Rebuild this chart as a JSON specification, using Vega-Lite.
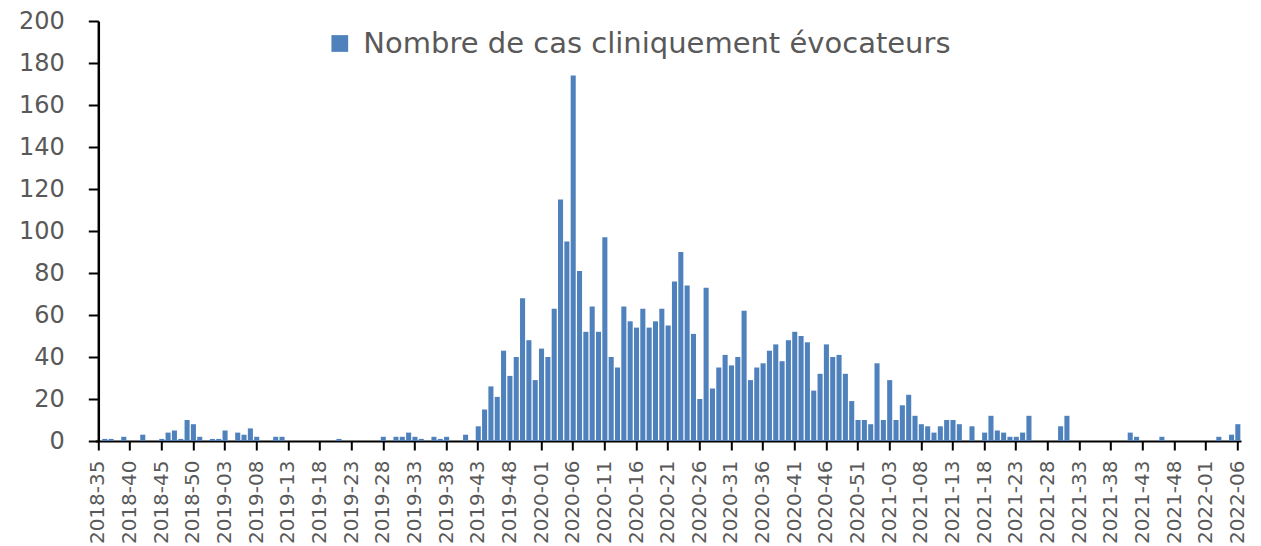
{
  "$schema": "https://vega.github.io/schema/vega-lite/v6.json",
  "width": 1145.7,
  "height": 420,
  "autosize": {"type": "none"},
  "padding": {"left": 95.3, "top": 21, "right": 20, "bottom": 105},
  "background": "white",
  "config": {"view": {"stroke": null}, "font": "DejaVu Sans"},
  "data": {"values": [
    {"semaine": "2018-35", "cas": 0}, {"semaine": "2018-36", "cas": 1}, {"semaine": "2018-37", "cas": 1}, {"semaine": "2018-38", "cas": 0},
    {"semaine": "2018-39", "cas": 2}, {"semaine": "2018-40", "cas": 0}, {"semaine": "2018-41", "cas": 0}, {"semaine": "2018-42", "cas": 3},
    {"semaine": "2018-43", "cas": 0}, {"semaine": "2018-44", "cas": 0}, {"semaine": "2018-45", "cas": 1}, {"semaine": "2018-46", "cas": 4},
    {"semaine": "2018-47", "cas": 5}, {"semaine": "2018-48", "cas": 1}, {"semaine": "2018-49", "cas": 10}, {"semaine": "2018-50", "cas": 8},
    {"semaine": "2018-51", "cas": 2}, {"semaine": "2018-52", "cas": 0},
    {"semaine": "2019-01", "cas": 1}, {"semaine": "2019-02", "cas": 1}, {"semaine": "2019-03", "cas": 5}, {"semaine": "2019-04", "cas": 0},
    {"semaine": "2019-05", "cas": 4}, {"semaine": "2019-06", "cas": 3}, {"semaine": "2019-07", "cas": 6}, {"semaine": "2019-08", "cas": 2},
    {"semaine": "2019-09", "cas": 0}, {"semaine": "2019-10", "cas": 0}, {"semaine": "2019-11", "cas": 2}, {"semaine": "2019-12", "cas": 2},
    {"semaine": "2019-13", "cas": 0}, {"semaine": "2019-14", "cas": 0}, {"semaine": "2019-15", "cas": 0}, {"semaine": "2019-16", "cas": 0},
    {"semaine": "2019-17", "cas": 0}, {"semaine": "2019-18", "cas": 0}, {"semaine": "2019-19", "cas": 0}, {"semaine": "2019-20", "cas": 0},
    {"semaine": "2019-21", "cas": 1}, {"semaine": "2019-22", "cas": 0}, {"semaine": "2019-23", "cas": 0}, {"semaine": "2019-24", "cas": 0},
    {"semaine": "2019-25", "cas": 0}, {"semaine": "2019-26", "cas": 0}, {"semaine": "2019-27", "cas": 0}, {"semaine": "2019-28", "cas": 2},
    {"semaine": "2019-29", "cas": 0}, {"semaine": "2019-30", "cas": 2}, {"semaine": "2019-31", "cas": 2}, {"semaine": "2019-32", "cas": 4},
    {"semaine": "2019-33", "cas": 2}, {"semaine": "2019-34", "cas": 1}, {"semaine": "2019-35", "cas": 0}, {"semaine": "2019-36", "cas": 2},
    {"semaine": "2019-37", "cas": 1}, {"semaine": "2019-38", "cas": 2}, {"semaine": "2019-39", "cas": 0}, {"semaine": "2019-40", "cas": 0},
    {"semaine": "2019-41", "cas": 3}, {"semaine": "2019-42", "cas": 0}, {"semaine": "2019-43", "cas": 7}, {"semaine": "2019-44", "cas": 15},
    {"semaine": "2019-45", "cas": 26}, {"semaine": "2019-46", "cas": 21}, {"semaine": "2019-47", "cas": 43}, {"semaine": "2019-48", "cas": 31},
    {"semaine": "2019-49", "cas": 40}, {"semaine": "2019-50", "cas": 68}, {"semaine": "2019-51", "cas": 48}, {"semaine": "2019-52", "cas": 29},
    {"semaine": "2020-01", "cas": 44}, {"semaine": "2020-02", "cas": 40}, {"semaine": "2020-03", "cas": 63}, {"semaine": "2020-04", "cas": 115},
    {"semaine": "2020-05", "cas": 95}, {"semaine": "2020-06", "cas": 174}, {"semaine": "2020-07", "cas": 81}, {"semaine": "2020-08", "cas": 52},
    {"semaine": "2020-09", "cas": 64}, {"semaine": "2020-10", "cas": 52}, {"semaine": "2020-11", "cas": 97}, {"semaine": "2020-12", "cas": 40},
    {"semaine": "2020-13", "cas": 35}, {"semaine": "2020-14", "cas": 64}, {"semaine": "2020-15", "cas": 57}, {"semaine": "2020-16", "cas": 54},
    {"semaine": "2020-17", "cas": 63}, {"semaine": "2020-18", "cas": 54}, {"semaine": "2020-19", "cas": 57}, {"semaine": "2020-20", "cas": 63},
    {"semaine": "2020-21", "cas": 55}, {"semaine": "2020-22", "cas": 76}, {"semaine": "2020-23", "cas": 90}, {"semaine": "2020-24", "cas": 74},
    {"semaine": "2020-25", "cas": 51}, {"semaine": "2020-26", "cas": 20}, {"semaine": "2020-27", "cas": 73}, {"semaine": "2020-28", "cas": 25},
    {"semaine": "2020-29", "cas": 35}, {"semaine": "2020-30", "cas": 41}, {"semaine": "2020-31", "cas": 36}, {"semaine": "2020-32", "cas": 40},
    {"semaine": "2020-33", "cas": 62}, {"semaine": "2020-34", "cas": 29}, {"semaine": "2020-35", "cas": 35}, {"semaine": "2020-36", "cas": 37},
    {"semaine": "2020-37", "cas": 43}, {"semaine": "2020-38", "cas": 46}, {"semaine": "2020-39", "cas": 38}, {"semaine": "2020-40", "cas": 48},
    {"semaine": "2020-41", "cas": 52}, {"semaine": "2020-42", "cas": 50}, {"semaine": "2020-43", "cas": 47}, {"semaine": "2020-44", "cas": 24},
    {"semaine": "2020-45", "cas": 32}, {"semaine": "2020-46", "cas": 46}, {"semaine": "2020-47", "cas": 40}, {"semaine": "2020-48", "cas": 41},
    {"semaine": "2020-49", "cas": 32}, {"semaine": "2020-50", "cas": 19}, {"semaine": "2020-51", "cas": 10}, {"semaine": "2020-52", "cas": 10},
    {"semaine": "2020-53", "cas": 8},
    {"semaine": "2021-01", "cas": 37}, {"semaine": "2021-02", "cas": 10}, {"semaine": "2021-03", "cas": 29}, {"semaine": "2021-04", "cas": 10},
    {"semaine": "2021-05", "cas": 17}, {"semaine": "2021-06", "cas": 22}, {"semaine": "2021-07", "cas": 12}, {"semaine": "2021-08", "cas": 8},
    {"semaine": "2021-09", "cas": 7}, {"semaine": "2021-10", "cas": 4}, {"semaine": "2021-11", "cas": 7}, {"semaine": "2021-12", "cas": 10},
    {"semaine": "2021-13", "cas": 10}, {"semaine": "2021-14", "cas": 8}, {"semaine": "2021-15", "cas": 0}, {"semaine": "2021-16", "cas": 7},
    {"semaine": "2021-17", "cas": 0}, {"semaine": "2021-18", "cas": 4}, {"semaine": "2021-19", "cas": 12}, {"semaine": "2021-20", "cas": 5},
    {"semaine": "2021-21", "cas": 4}, {"semaine": "2021-22", "cas": 2}, {"semaine": "2021-23", "cas": 2}, {"semaine": "2021-24", "cas": 4},
    {"semaine": "2021-25", "cas": 12}, {"semaine": "2021-26", "cas": 0}, {"semaine": "2021-27", "cas": 0}, {"semaine": "2021-28", "cas": 0},
    {"semaine": "2021-29", "cas": 0}, {"semaine": "2021-30", "cas": 7}, {"semaine": "2021-31", "cas": 12}, {"semaine": "2021-32", "cas": 0},
    {"semaine": "2021-33", "cas": 0}, {"semaine": "2021-34", "cas": 0}, {"semaine": "2021-35", "cas": 0}, {"semaine": "2021-36", "cas": 0},
    {"semaine": "2021-37", "cas": 0}, {"semaine": "2021-38", "cas": 0}, {"semaine": "2021-39", "cas": 0}, {"semaine": "2021-40", "cas": 0},
    {"semaine": "2021-41", "cas": 4}, {"semaine": "2021-42", "cas": 2}, {"semaine": "2021-43", "cas": 0}, {"semaine": "2021-44", "cas": 0},
    {"semaine": "2021-45", "cas": 0}, {"semaine": "2021-46", "cas": 2}, {"semaine": "2021-47", "cas": 0}, {"semaine": "2021-48", "cas": 0},
    {"semaine": "2021-49", "cas": 0}, {"semaine": "2021-50", "cas": 0}, {"semaine": "2021-51", "cas": 0}, {"semaine": "2021-52", "cas": 0},
    {"semaine": "2022-01", "cas": 0}, {"semaine": "2022-02", "cas": 0}, {"semaine": "2022-03", "cas": 2}, {"semaine": "2022-04", "cas": 0},
    {"semaine": "2022-05", "cas": 3}, {"semaine": "2022-06", "cas": 8}
  ]},
  "mark": {"type": "bar"},
  "encoding": {
    "x": {
      "field": "semaine", "type": "ordinal", "sort": null,
      "scale": {"paddingInner": 0.2, "paddingOuter": 0.1},
      "axis": {
        "title": null,
        "values": ["2018-35","2018-40","2018-45","2018-50","2019-03","2019-08","2019-13","2019-18","2019-23","2019-28","2019-33","2019-38","2019-43","2019-48","2020-01","2020-06","2020-11","2020-16","2020-21","2020-26","2020-31","2020-36","2020-41","2020-46","2020-51","2021-03","2021-08","2021-13","2021-18","2021-23","2021-28","2021-33","2021-38","2021-43","2021-48","2022-01","2022-06"],
        "labelAngle": -90, "labelFontSize": 20, "labelColor": "#595959", "labelFont": "DejaVu Sans",
        "labelPadding": 10, "tickSize": 9, "tickColor": "black", "tickWidth": 2,
        "domainColor": "black", "domainWidth": 2, "grid": false
      }
    },
    "y": {
      "field": "cas", "type": "quantitative",
      "scale": {"domain": [0, 200], "nice": false},
      "axis": {
        "title": null, "values": [0,20,40,60,80,100,120,140,160,180,200],
        "offset": -3, "labelFontSize": 24, "labelColor": "#595959", "labelFont": "DejaVu Sans",
        "labelPadding": 24, "tickSize": 10, "tickColor": "black", "tickWidth": 2,
        "domainColor": "black", "domainWidth": 2.5, "grid": false
      }
    },
    "color": {
      "datum": "Nombre de cas cliniquement évocateurs", "type": "nominal",
      "scale": {"range": ["#4F81BD"]},
      "legend": {
        "title": null, "orient": "none", "legendX": 230, "legendY": 8,
        "symbolType": "square", "symbolSize": 280, "symbolStrokeWidth": 0,
        "labelFontSize": 29, "labelColor": "#595959", "labelFont": "DejaVu Sans", "labelOffset": 9,
        "labelLimit": 800
      }
    }
  }
}
